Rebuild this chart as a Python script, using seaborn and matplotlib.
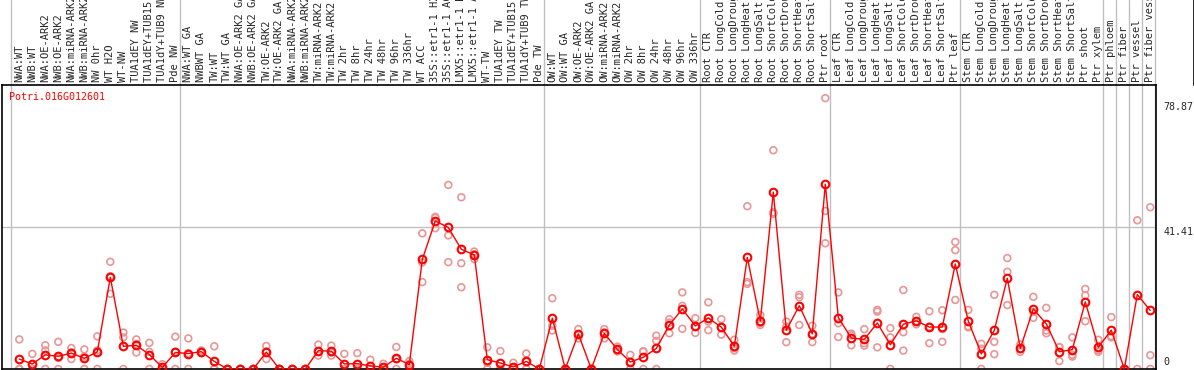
import numpy as np
import pandas as pd
import matplotlib
matplotlib.use("Agg")
import matplotlib.pyplot as plt
import matplotlib.transforms as mtransforms
import seaborn as sns

gene = "Potri.016G012601"

samples = [
    "NWA:WT", "NWB:WT", "NWA:OE-ARK2", "NWB:OE-ARK2", "NWA:miRNA-ARK2", "NWB:miRNA-ARK2",
    "NW 0hr", "WT H2O", "WT-NW", "TUA1dEY NW", "TUA1dEY+TUB15 NW", "TUA1dY+TUB9 NW", "Pde NW",
    "NWA:WT GA", "NWBWT GA", "TW:WT", "TW:WT GA", "NWA:OE-ARK2 GA", "NWB:OE-ARK2 GA",
    "TW:OE-ARK2", "TW:OE-ARK2 GA", "NWA:miRNA-ARK2", "NWB:miRNA-ARK2", "TW:miRNA-ARK2",
    "TW:miRNA-ARK2", "TW 2hr", "TW 8hr", "TW 24hr", "TW 48hr", "TW 96hr", "TW 336hr",
    "WT ACC", "35S::etr1-1 H2O", "35S::etr1-1 ACC", "LMX5::etr1-1 H2O", "LMX5::etr1-1 ACC",
    "WT-TW", "TUA1dEY TW", "TUA1dEY+TUB15 TW", "TUA1dY+TUB9 TW", "Pde TW",
    "OW:WT", "OW:WT GA", "OW:OE-ARK2", "OW:OE-ARK2 GA", "OW:miRNA-ARK2", "OW:miRNA-ARK2",
    "OW 2hr", "OW 8hr", "OW 24hr", "OW 48hr", "OW 96hr", "OW 336hr",
    "Root CTR", "Root LongCold", "Root LongDrought", "Root LongHeat", "Root LongSalt",
    "Root ShortCold", "Root ShortDrought", "Root ShortHeat", "Root ShortSalt", "Ptr root",
    "Leaf CTR", "Leaf LongCold", "Leaf LongDrought", "Leaf LongHeat", "Leaf LongSalt",
    "Leaf ShortCold", "Leaf ShortDrought", "Leaf ShortHeat", "Leaf ShortSalt", "Ptr leaf",
    "Stem CTR", "Stem LongCold", "Stem LongDrought", "Stem LongHeat", "Stem LongSalt",
    "Stem ShortCold", "Stem ShortDrought", "Stem ShortHeat", "Stem ShortSalt", "Ptr shoot",
    "Ptr xylem", "Ptr phloem", "Ptr fiber", "Ptr vessel", "Ptr fiber vessel",
]

rep1 = [8.6, 4.4, 6.9, 7.9, 6.1, 5.7, 9.5, 31.2, 10.6, 8.6, 7.6, 1.4, 9.4,
        8.9, 5.4, 6.6, 0, 0, 0, 6.7, 0, 0, 0, 7.1, 6.8, 4.4, 4.6, 2.7, 1.5, 6.4, 2.3,
        39.5, 44.3, 53.6, 50.0, 34.2, 6.3, 5.2, 1.8, 4.5, 0,
        20.6, 0, 11.6, 0, 11.6, 6.5, 4.1, 5.2, 9.7, 14.5, 22.3, 14.8,
        19.4, 14.5, 8.5, 47.4, 15.7, 63.7, 13.8, 21.6, 12.6, 78.87,
        22.3, 10.3, 11.6, 17.2, 11.9, 23.0, 15.2, 16.8, 17.1, 37.0,
        17.2, 7.3, 21.6, 32.3, 7.2, 21.0, 17.8, 6.4, 9.2, 23.3, 8.5,
        15.1, 0, 43.3, 47.1]
rep2 = [0, 0, 5.4, 3.2, 4.8, 3.6, 5.4, 27.0, 9.2, 7.3, 5.0, 0, 5.0,
        4.6, 5.0, 0, 0, 0, 0, 5.1, 0, 0, 0, 5.0, 4.8, 0, 0, 0, 0, 2.9, 1.5,
        31.0, 44.0, 38.9, 30.8, 33.4, 1.8, 0, 0, 2.1, 0,
        12.6, 0, 10.1, 0, 10.6, 5.5, 2.0, 5.0, 8.2, 13.5, 18.4, 12.3,
        13.8, 12.1, 6.0, 25.3, 13.3, 45.6, 12.3, 20.9, 10.2, 46.0,
        13.3, 9.8, 7.5, 16.7, 9.2, 10.7, 13.9, 12.3, 11.6, 34.6,
        12.4, 5.9, 7.9, 28.3, 5.8, 16.6, 11.2, 6.3, 4.1, 21.4, 5.5,
        9.6, 0, 0, 4.0]
rep3 = [0, 0, 0, 0, 2.9, 0, 0, 21.9, 0, 4.8, 0, 0, 0,
        0, 4.7, 0, 0, 0, 0, 2.9, 0, 0, 0, 3.9, 3.9, 0, 0, 0, 0, 0, 0,
        25.3, 41.0, 31.1, 23.8, 32.0, 0, 0, 0, 0, 0,
        11.2, 0, 8.9, 0, 8.9, 5.1, 0, 0, 0, 10.4, 11.7, 10.5,
        11.3, 10.0, 5.35, 24.8, 12.8, 45.2, 7.8, 12.8, 7.8, 36.6,
        9.3, 6.9, 6.8, 6.3, 0, 5.35, 13.0, 7.5, 7.9, 20.1,
        12.1, 0, 4.3, 18.6, 5.0, 14.9, 10.4, 2.3, 3.6, 13.9, 5.0,
        9.2, 0, np.nan, 0]

# last sample of each block (-1 = line before the first sample)
block_ends = [-1, 12, 40, 52, 62, 72, 83, 84, 85, 86, 87]
y_top = 78.87
y_mid = 41.41

pos = np.arange(len(samples))
df = pd.DataFrame({"pos": np.tile(pos, 3),
                   "value": rep1 + rep2 + rep3}).dropna()

sns.set_style("white")
plt.rcParams["font.family"] = ["DejaVu Sans Mono"]

W, H = 1194, 370
fig = plt.figure(figsize=(W / 100, H / 100), dpi=100)

# label band above the plot
lab_ax = fig.add_axes([1.5 / W, (H - 85) / H, (1193.5 - 1.5) / W, 85 / H])
lab_ax.set_xlim(-1.37, -1.37 + (1193.5 - 1.5) / 13)
lab_ax.set_ylim(0, 1)
lab_ax.patch.set_visible(False)
lab_ax.set_xticks([])
lab_ax.set_yticks([])
for s in ["left", "top", "bottom"]:
    lab_ax.spines[s].set_visible(False)
lab_ax.spines["right"].set_color("black")
lab_ax.spines["right"].set_linewidth(1.2)

ax = fig.add_axes([1.5 / W, (H - 369.3) / H, (1155.7 - 1.5) / W, (369.3 - 85) / H])
ax.set_xlim(-1.37, 87.415)
ax.set_ylim(-0.1, 82.7)

for b in block_ends:
    ax.axvline(b + 0.38, color="#c0c0c0", lw=1, zorder=0)
    lab_ax.axvline(b + 0.38, color="#c0c0c0", lw=1, zorder=0)
ax.axhline(y_mid, color="#c0c0c0", lw=1, zorder=0)

sns.scatterplot(data=df, x="pos", y="value", ax=ax, s=24, marker="o",
                color="#e89696", linewidth=1.2, legend=False, zorder=2)
ax.collections[-1].set_facecolor("none")
ax.collections[-1].set_edgecolor("#e89696")

sns.lineplot(data=df, x="pos", y="value", estimator="mean", errorbar=None, ax=ax,
             color="red", lw=1, marker="o", markersize=5.5, markerfacecolor="none",
             markeredgecolor="red", markeredgewidth=1.5, zorder=3)

ax.set_xlabel("")
ax.set_ylabel("")
ax.set_xticks(pos)
ax.set_xticklabels(samples, rotation=90, fontsize=7.5)
ax.tick_params(axis="x", bottom=False, labelbottom=False, top=True, labeltop=True,
               length=0, pad=2)
ax.set_yticks([])
for s in ax.spines.values():
    s.set_color("black")
    s.set_linewidth(1.2)

ax.text(0.0065, 0.958, gene, transform=ax.transAxes, color="red",
        fontsize=7.2, ha="left", va="center")

tr = mtransforms.blended_transform_factory(ax.transAxes, ax.transData)
ax.text(1.007, y_top, f"{y_top:.2f}", transform=mtransforms.offset_copy(tr, fig=fig, y=-6.5, units="points"),
        fontsize=7.2, ha="left", va="center", clip_on=False)
ax.text(1.007, y_mid, f"{y_mid:.2f}", transform=mtransforms.offset_copy(tr, fig=fig, y=-3.5, units="points"),
        fontsize=7.2, ha="left", va="center", clip_on=False)
ax.text(1.007, 0, "0", transform=mtransforms.offset_copy(tr, fig=fig, y=5, units="points"),
        fontsize=7.2, ha="left", va="center", clip_on=False)

fig.savefig("out.png", dpi=100)
